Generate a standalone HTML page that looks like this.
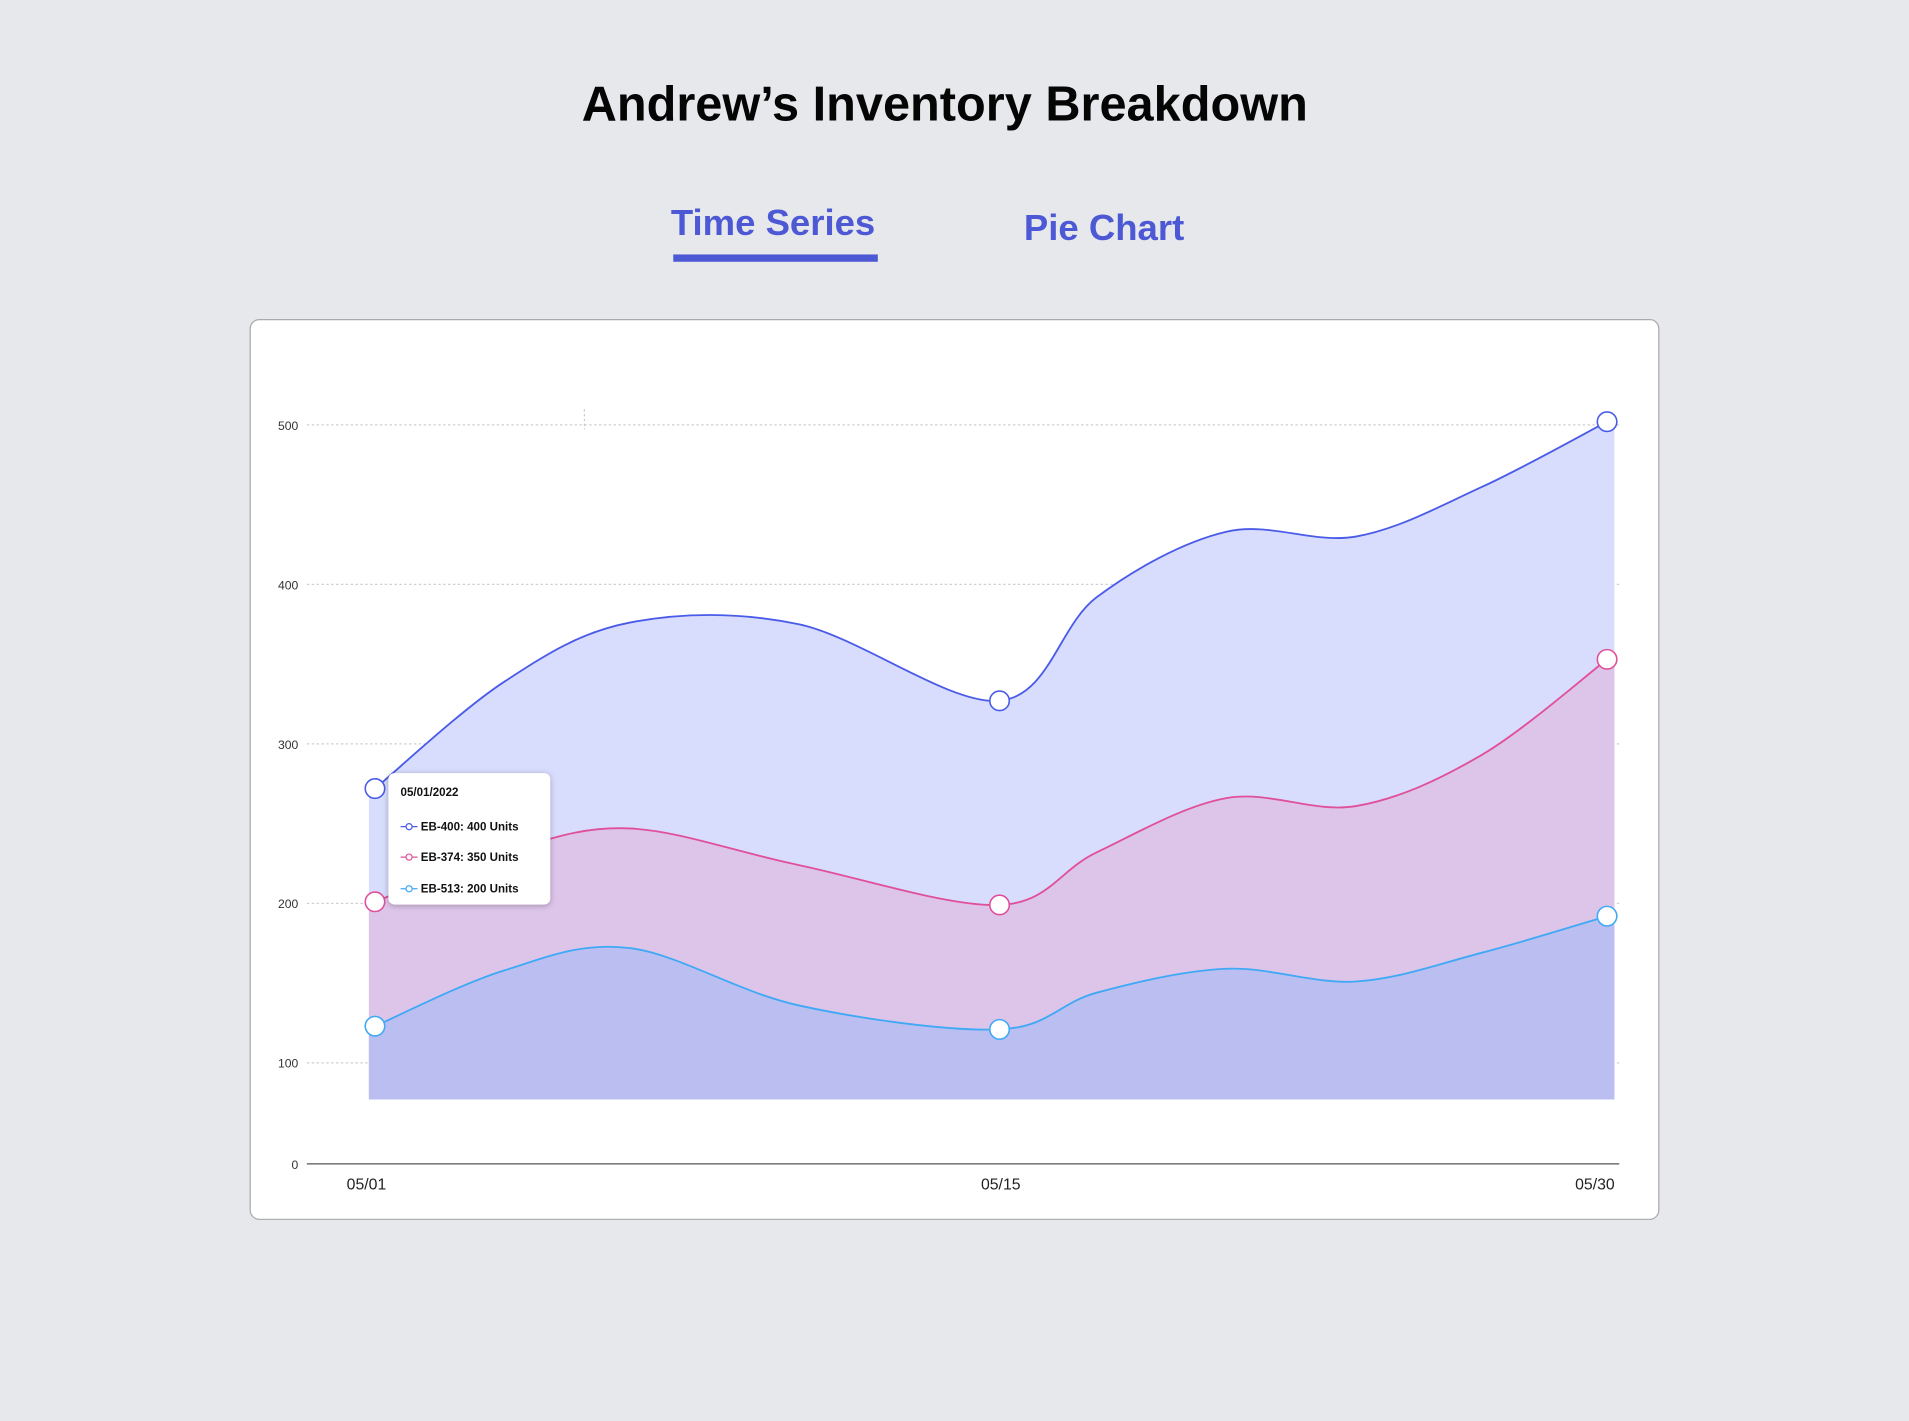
<!DOCTYPE html>
<html><head><meta charset="utf-8"><style>
html,body{margin:0;padding:0;background:#e7e8ec;overflow:hidden}
#root{width:1568px;height:1167px;transform:scale(1.21748);transform-origin:0 0;position:relative;font-family:"Liberation Sans",sans-serif}
h1{position:absolute;left:0;width:1552px;top:64px;margin:0;text-align:center;font-size:40px;font-weight:bold;color:#050505}
.tab{position:absolute;font-size:30px;font-weight:bold;color:#4c58d4}
#card{position:absolute;left:205px;top:262px;width:1156px;height:738px;background:#fff;border:1px solid #a9a9ad;border-radius:8px}
#tip{position:absolute;left:319px;top:635px;width:133px;height:108px;background:#fff;border-radius:5px;box-shadow:0 1px 5px rgba(0,0,0,.25);font-size:9.5px;font-weight:bold;color:#111}
.ti{position:absolute;left:10px}
</style></head><body>
<div id="root">
<h1>Andrew’s Inventory Breakdown</h1>
<div class="tab" style="left:551px;top:167px">Time Series</div>
<div style="position:absolute;left:553px;top:209px;width:168px;height:6px;background:#4c58d4"></div>
<div class="tab" style="left:841px;top:171px">Pie Chart</div>
<div id="card"></div>
<svg id="chart" width="1568" height="1167" style="position:absolute;left:0;top:0"></svg>
<div id="tip">
<div class="ti" style="top:11px">05/01/2022</div>
<div class="ti" style="top:39px"><svg width="14" height="8" style="vertical-align:middle"><line x1="0" y1="4" x2="14" y2="4" stroke="#4a5be8"/><circle cx="7" cy="4" r="2.5" fill="#fff" stroke="#4a5be8"/></svg> EB-400: 400 Units</div>
<div class="ti" style="top:64px"><svg width="14" height="8" style="vertical-align:middle"><line x1="0" y1="4" x2="14" y2="4" stroke="#e0509a"/><circle cx="7" cy="4" r="2.5" fill="#fff" stroke="#e0509a"/></svg> EB-374: 350 Units</div>
<div class="ti" style="top:90px"><svg width="14" height="8" style="vertical-align:middle"><line x1="0" y1="4" x2="14" y2="4" stroke="#3fa9f5"/><circle cx="7" cy="4" r="2.5" fill="#fff" stroke="#3fa9f5"/></svg> EB-513: 200 Units</div>
</div>
</div>
<script>
const days=[1,3.9,6.7,10.5,15,17.4,20.6,23.8,26.9,30];
const eb400=[272,339,376,375,327,392,433,430,461,502];
const eb374=[201,232,247,224,199,232,266,261,293,353];
const eb513=[123,158,172,136,121,144,159,151,169,192];
const yTicks=[100,200,300,400,500];
const xLabels=["05/01","05/15","05/30"];
const xLabelDays=[1,15,30];
const markerDays=[1,15,30];
const NS="http://www.w3.org/2000/svg";
const svg=document.getElementById('chart');
const x=d=>d<=15?308+(d-1)*(513/14):821+(d-15)*(499/15);
const y=v=>873-(v-100)*1.31;
const baseV=77;
function el(t,a,p){const e=document.createElementNS(NS,t);for(const k in a)e.setAttribute(k,a[k]);(p||svg).appendChild(e);return e;}
function curve(vals){const p=days.map((d,i)=>[x(d),y(vals[i])]);let s="M"+p[0][0]+","+p[0][1];
for(let i=0;i<p.length-1;i++){const p0=p[i-1]||p[i],p1=p[i],p2=p[i+1],p3=p[i+2]||p2;
const c1=[p1[0]+(p2[0]-p0[0])/6,p1[1]+(p2[1]-p0[1])/6],c2=[p2[0]-(p3[0]-p1[0])/6,p2[1]-(p3[1]-p1[1])/6];
s+=` C${c1[0]},${c1[1]} ${c2[0]},${c2[1]} ${p2[0]},${p2[1]}`;}return s;}
yTicks.forEach(t=>{
const g=el('line',{x1:252,x2:1330,y1:y(t),y2:y(t),stroke:'#cfcfd4','stroke-dasharray':'2,2'});

const l=el('text',{x:245,y:y(t)+4,'text-anchor':'end','font-size':10,fill:'#333','font-family':'Liberation Sans'});l.textContent=t;
});
const z=el('text',{x:245,y:960,'text-anchor':'end','font-size':10,fill:'#333','font-family':'Liberation Sans'});z.textContent='0';

const ax=el('line',{x1:252,x2:1330,y1:956,y2:956,stroke:'#555','stroke-width':1});

const dl=el('line',{x1:480,x2:480,y1:336,y2:353,stroke:'#ccc','stroke-dasharray':'2,2'});

const series=[[eb400,'#d8ddfd','#4a5be8','eb-400'],[eb374,'#ddc5ea','#e0509a','eb-374'],[eb513,'#bbbef0','#3fa9f5','eb-513']];
series.forEach(([v,f,s,n])=>{const c=curve(v);
const a=el('path',{d:c+` L${x(30)+6},${y(v[v.length-1])} L${x(30)+6},${y(baseV)} L${x(1)-5},${y(baseV)} L${x(1)-5},${y(v[0])} Z`,fill:f});
});
series.forEach(([v,f,s,n])=>{const l=el('path',{d:curve(v),fill:'none',stroke:s,'stroke-width':1.5});

markerDays.forEach(d=>{const i=days.indexOf(d);const m=el('circle',{cx:x(d),cy:y(v[i]),r:8,fill:'#fff',stroke:s,'stroke-width':1.3});
});});
xLabels.forEach((t,i)=>{const l=el('text',{x:x(xLabelDays[i])+(i==0?-7:i==2?-10:1),y:977,'text-anchor':'middle','font-size':13,fill:'#222','font-family':'Liberation Sans'});l.textContent=t;
});
</script>
</body></html>
